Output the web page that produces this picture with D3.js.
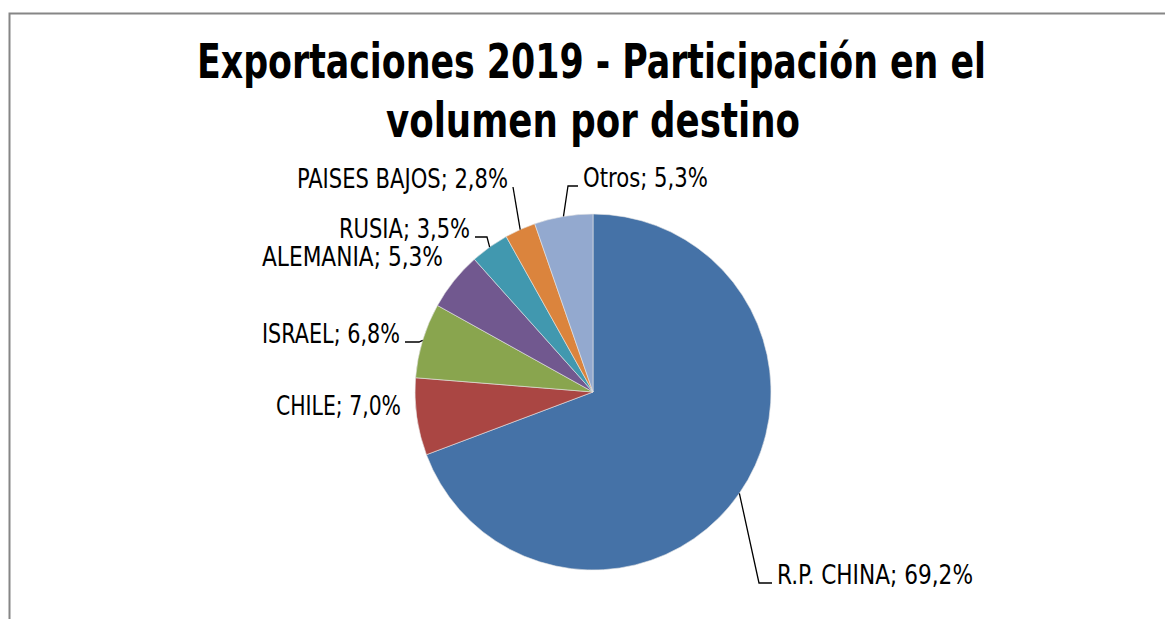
<!DOCTYPE html>
<html>
<head>
<meta charset="utf-8">
<script src="https://cdn.jsdelivr.net/npm/d3@7"></script>
<style>
  html, body { margin: 0; padding: 0; background: #fff; }
  text { font-family: "Liberation Sans Narrow", "Arial Narrow", "DejaVu Sans Condensed", sans-serif; }
</style>
</head>
<body>
<div id="chart"></div>
<script>
// data
const destinos = ['R.P. CHINA', 'CHILE', 'ISRAEL', 'ALEMANIA', 'RUSIA', 'PAISES BAJOS', 'Otros'];
const participacion = [69.2, 7.0, 6.8, 5.3, 3.5, 2.8, 5.3];
const colores = ['#4572A7', '#AA4643', '#89A54E', '#71588F', '#4198AF', '#DB843D', '#93A9CF'];
const titulo = ['Exportaciones 2019 - Participación en el', 'volumen por destino'];

// title lines: centre x, baseline y, rendered width (narrow font is not installed)
const tituloLayout = [
  { x: 591.5, y: 78, w: 789 },
  { x: 593, y: 137, w: 414 }
];

// label placement: anchor point, width, leader hook length
const labelLayout = [
  { x: 777, y: 584, w: 196, anchor: 'start', hook: 13, leader: true },
  { x: 401, y: 415, w: 125, anchor: 'end', hook: 0, leader: false },
  { x: 400, y: 343, w: 138, anchor: 'end', hook: 14, leader: true },
  { x: 443, y: 266, w: 181, anchor: 'end', hook: 0, leader: false },
  { x: 470, y: 238, w: 131, anchor: 'end', hook: 12, leader: true },
  { x: 508, y: 188, w: 211, anchor: 'end', hook: 0, leader: true },
  { x: 583, y: 187, w: 125, anchor: 'start', hook: 10, leader: true }
];

const width = 1165, height = 619;
const cx = 593, cy = 392, radius = 178;

const svg = d3.select('#chart').append('svg')
    .attr('width', width)
    .attr('height', height);

// chart area border (only top and left visible)
svg.append('path')
    .attr('d', `M9.5,${height} L9.5,13.5 L${width},13.5`)
    .style('fill', 'none')
    .style('stroke', '#868686')
    .style('stroke-width', 2);

// title
svg.selectAll('text.title')
    .data(titulo)
    .join('text')
    .attr('class', 'title')
    .attr('x', (d, i) => tituloLayout[i].x)
    .attr('y', (d, i) => tituloLayout[i].y)
    .attr('text-anchor', 'middle')
    .attr('textLength', (d, i) => tituloLayout[i].w)
    .attr('lengthAdjust', 'spacingAndGlyphs')
    .style('font-weight', 'bold')
    .style('font-size', '48px')
    .style('fill', '#000')
    .text(d => d);

const rows = destinos.map((d, i) => ({ name: d, value: participacion[i], color: colores[i], layout: labelLayout[i] }));

const pie = d3.pie().sort(null).value(d => d.value);
const arcs = pie(rows);
const arc = d3.arc().innerRadius(0).outerRadius(radius);

const g = svg.append('g').attr('transform', `translate(${cx},${cy})`);

g.selectAll('path.slice')
    .data(arcs)
    .join('path')
    .attr('class', 'slice')
    .attr('d', arc)
    .style('fill', d => d.data.color)
    .style('stroke', '#e6e6e6')
    .style('stroke-width', 0.6);

// leader lines
const fmt = v => v.toFixed(1).replace('.', ',') + '%';

arcs.forEach(a => {
  const L = a.data.layout;
  if (!L.leader) return;
  const mid = (a.startAngle + a.endAngle) / 2;
  const px = cx + radius * Math.sin(mid);
  const py = cy - radius * Math.cos(mid);
  const ly = L.y - 1;
  const endX = L.anchor === 'start' ? L.x - 5 : L.x + 5;
  const elbowX = L.anchor === 'start' ? endX - L.hook : endX + L.hook;
  svg.append('path')
      .attr('d', d3.line()([[px, py], [elbowX, ly], [endX, ly]]))
      .style('fill', 'none')
      .style('stroke', '#000')
      .style('stroke-width', 1.3);
});

// data labels
svg.selectAll('text.label')
    .data(arcs)
    .join('text')
    .attr('class', 'label')
    .attr('x', d => d.data.layout.x)
    .attr('y', d => d.data.layout.y)
    .attr('text-anchor', d => d.data.layout.anchor)
    .attr('textLength', d => d.data.layout.w)
    .attr('lengthAdjust', 'spacingAndGlyphs')
    .style('font-size', '27px')
    .style('fill', '#000')
    .text(d => `${d.data.name}; ${fmt(d.data.value)}`);
</script>
</body>
</html>
